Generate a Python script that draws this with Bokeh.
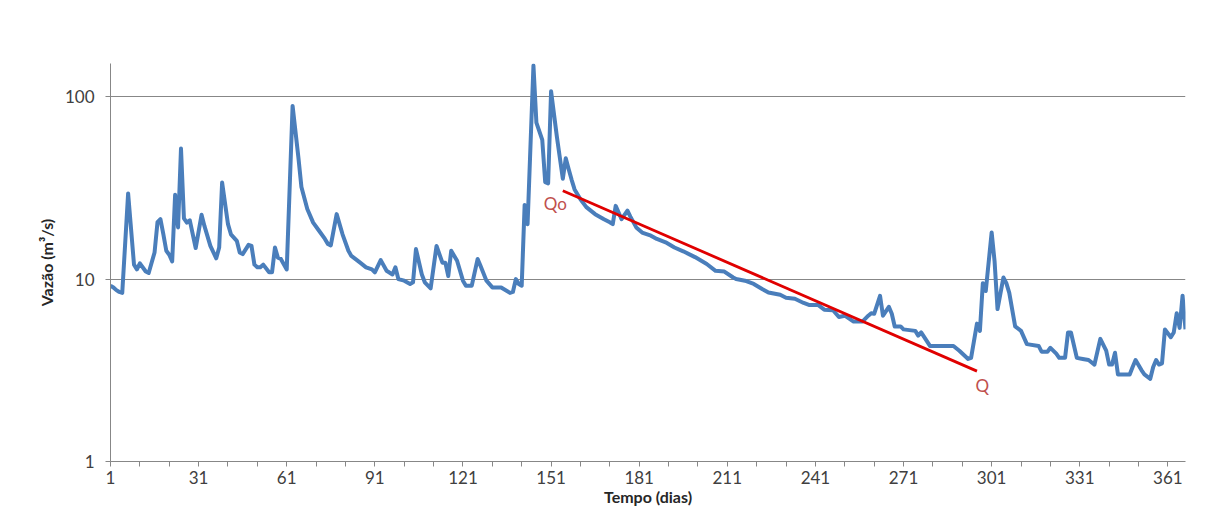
from bokeh.plotting import figure
from bokeh.models import Range1d, FixedTicker, NumeralTickFormatter, Label
from bokeh.embed import file_html
from bokeh.resources import INLINE

# ---- data ----
dias = [1, 2, 3, 4, 5, 7, 9, 10, 11, 13, 14, 16, 17, 18, 19, 20, 21, 22, 23, 24,
        25, 26, 27, 28, 30, 32, 33, 35, 37, 38, 39, 41, 42, 44, 45, 46, 48, 49, 50, 51,
        52, 53, 55, 56, 57, 58, 59, 61, 63, 65, 66, 68, 70, 72, 74, 75, 76, 78, 80, 82,
        83, 86, 88, 90, 91, 93, 95, 97, 98, 99, 101, 103, 104, 105, 107, 108, 110, 112, 114, 115,
        116, 117, 119, 121, 122, 124, 126, 127, 129, 131, 134, 137, 138, 139, 140, 141, 142, 143, 145, 146,
        148, 149, 150, 151, 153, 155, 156, 157, 158, 159, 161, 163, 166, 169, 171, 172, 173, 175, 177, 178,
        180, 182, 185, 187, 190, 193, 196, 200, 204, 207, 210, 213, 214, 217, 220, 223, 225, 229, 231, 234,
        237, 239, 242, 244, 247, 249, 251, 254, 257, 259, 260, 261, 263, 264, 266, 267, 268, 270, 271, 275,
        276, 277, 280, 288, 290, 293, 294, 296, 297, 298, 299, 301, 302, 303, 305, 306, 307, 309, 311, 313,
        317, 318, 320, 321, 323, 324, 326, 327, 328, 330, 332, 334, 336, 338, 340, 341, 342, 343, 344, 348,
        349, 350, 352, 353, 355, 356, 357, 358, 359, 360, 362, 363, 364, 365, 366, 367]
vazao = [9.2, 9.0, 8.7, 8.5, 8.4, 29.5, 12.0, 11.3, 12.2, 11.0, 10.8, 14.0, 20.5, 21.3, 17.6, 14.3, 13.6, 12.5, 29.0, 19.2,
         52.0, 21.5, 20.4, 21.0, 14.8, 22.5, 19.5, 15.2, 13.0, 14.9, 33.8, 20.0, 17.6, 16.2, 14.0, 13.7, 15.4, 15.2, 12.0, 11.6,
         11.6, 12.0, 10.9, 10.9, 14.9, 13.1, 12.9, 11.3, 89.0, 46.0, 32.0, 24.2, 20.4, 18.4, 16.6, 15.6, 15.3, 22.7, 17.6, 14.3,
         13.4, 12.3, 11.6, 11.3, 10.9, 12.7, 11.1, 10.6, 11.6, 10.0, 9.8, 9.4, 9.6, 14.6, 10.6, 9.6, 8.9, 15.2, 12.3, 12.3,
         10.4, 14.3, 12.6, 9.8, 9.2, 9.2, 12.9, 11.8, 9.8, 9.0, 9.0, 8.4, 8.5, 10.0, 9.4, 9.2, 25.5, 20.0, 148.0, 72.0,
         58.0, 34.0, 33.5, 107.0, 60.0, 35.5, 46.0, 40.0, 35.0, 31.0, 27.4, 24.8, 22.7, 21.3, 20.5, 20.0, 25.2, 21.3, 23.7, 22.0,
         19.2, 18.0, 17.3, 16.6, 15.9, 14.9, 14.2, 13.2, 12.1, 11.1, 11.0, 10.2, 10.0, 9.8, 9.4, 8.8, 8.45, 8.2, 7.9, 7.8,
         7.4, 7.2, 7.2, 6.8, 6.75, 6.2, 6.3, 5.85, 5.85, 6.3, 6.5, 6.45, 8.1, 6.3, 7.05, 6.45, 5.5, 5.5, 5.3, 5.2,
         4.9, 5.1, 4.3, 4.3, 4.05, 3.65, 3.7, 5.7, 5.2, 9.5, 8.6, 18.0, 12.5, 6.85, 10.2, 9.5, 8.4, 5.5, 5.2, 4.4,
         4.3, 4.0, 4.0, 4.2, 3.9, 3.7, 3.7, 5.1, 5.1, 3.7, 3.65, 3.6, 3.4, 4.7, 4.05, 3.4, 3.4, 3.95, 3.0, 3.0,
         3.3, 3.6, 3.17, 3.0, 2.84, 3.3, 3.6, 3.4, 3.45, 5.3, 4.8, 5.1, 6.5, 5.4, 8.1, 5.3]

recessao_dias = [155, 296]
recessao_vazao = [30.5, 3.13]

x_ticks = list(range(1, 362, 10))
x_labels = [1, 31, 61, 91, 121, 151, 181, 211, 241, 271, 301, 331, 361]
y_ticks = [1, 10, 100]

FONT = "Lato"
GRID = "#878787"
TXT = "#404040"

p = figure(width=1219, height=508, y_axis_type="log",
           x_range=Range1d(1, 367), y_range=Range1d(1, 152),
           output_backend="svg", toolbar_location=None,
           min_border_left=110, min_border_right=34,
           min_border_top=63, min_border_bottom=46)
p.outline_line_color = None
p.background_fill_color = "white"
p.border_fill_color = "white"

p.line(dias, vazao, line_color="#4a7ebb", line_width=4, line_join="round")
p.line(recessao_dias, recessao_vazao, line_color="#e00000", line_width=2.8)

# axes
p.xaxis.ticker = FixedTicker(ticks=x_ticks)
p.xaxis.major_label_overrides = {t: (str(t) if t in x_labels else "") for t in x_ticks}
p.yaxis.ticker = FixedTicker(ticks=y_ticks)
p.yaxis.formatter = NumeralTickFormatter(format="0")
for ax in (p.xaxis, p.yaxis):
    ax.axis_line_color = GRID
    ax.major_tick_line_color = GRID
    ax.major_tick_out = 5
    ax.major_tick_in = 0
    ax.minor_tick_line_color = None
    ax.major_label_text_font = FONT
    ax.major_label_text_font_size = "17px"
    ax.major_label_text_color = TXT
p.xaxis.major_label_standoff = 4
p.yaxis.major_label_standoff = 11

p.yaxis.axis_label = "Vazão (m³/s)"
p.yaxis.axis_label_text_font = FONT
p.yaxis.axis_label_text_font_style = "bold"
p.yaxis.axis_label_text_font_size = "16px"
p.yaxis.axis_label_text_color = "#262626"
p.yaxis.axis_label_standoff = 6

p.xaxis.axis_label = "Tempo (dias)"
p.xaxis.axis_label_text_font = FONT
p.xaxis.axis_label_text_font_style = "bold"
p.xaxis.axis_label_text_font_size = "16px"
p.xaxis.axis_label_text_color = "#262626"
p.xaxis.axis_label_standoff = 0

p.xgrid.grid_line_color = None
p.ygrid.ticker = FixedTicker(ticks=[10, 100])
p.ygrid.grid_line_color = GRID
p.ygrid.grid_line_width = 1

p.add_layout(Label(x=148.5, y=26.0, text="Qo", text_font=FONT, text_font_size="17px",
                   text_color="#c0504d", text_align="left", text_baseline="middle"))
p.add_layout(Label(x=295.5, y=2.6, text="Q", text_font=FONT, text_font_size="17px",
                   text_color="#c0504d", text_align="left", text_baseline="middle"))

open("out.html", "w").write(file_html(p, INLINE))
